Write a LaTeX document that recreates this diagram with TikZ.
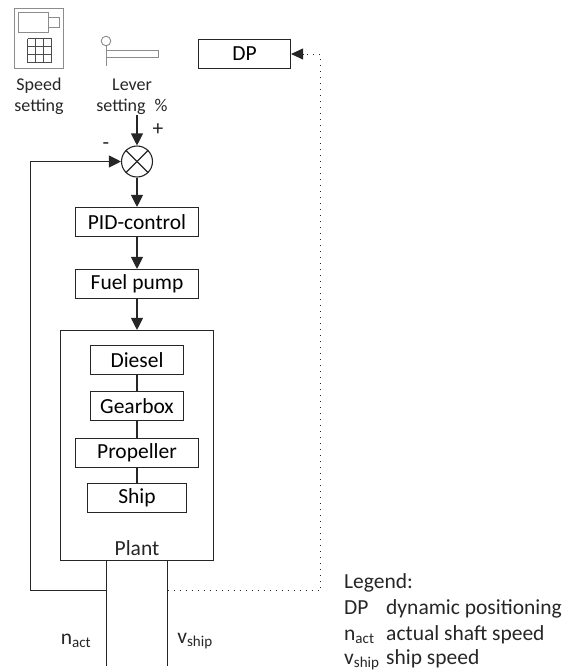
\documentclass[tikz,border=0pt]{standalone}
\usepackage{fontspec}
\setmainfont{Carlito}
\usepackage{tikz}
\usetikzlibrary{arrows.meta}
\usetikzlibrary{positioning}
\begin{document}
\begin{tikzpicture}[x=1pt,y=-1pt]
	\useasboundingbox (0,0) rectangle (569,672);
	\tikzset{every node/.style={font=\fontsize{21.5}{24}\selectfont},
	         block/.style={draw=black!85, line width=1.1pt, minimum height=29pt, inner sep=0pt},
	         word/.style={inner sep=0pt, align=center, text=black!85},
	         small/.style={font=\fontsize{18}{21}\selectfont},
	         icon/.style={draw=black!45, line width=0.9pt},
	         wire/.style={draw=black!85, line width=1.1pt},
	         flow/.style={draw=black!85, line width=1.1pt, -{Triangle[length=12pt,width=12pt]}},
	         dots/.style={draw=black!85, line width=0.9pt, dash pattern=on 1pt off 5pt}}

	% blocks
	\node[block, minimum width=92pt] (DP) at (244.5,54) {DP};
	\node[block, minimum width=123pt] (PID) at (137,222) {PID-control};
	\node[block, minimum width=123pt] (pump) at (137,284) {Fuel pump};
	\node[block, minimum width=153pt, minimum height=230pt] (plant) at (137,445.5) {};
	\node[block, minimum width=93pt] (diesel) at (137,360) {Diesel};
	\node[block, minimum width=93pt] (gearbox) at (137,406) {Gearbox};
	\node[block, minimum width=123pt] (prop) at (137,453) {Propeller};
	\node[block, minimum width=99pt] (ship) at (137,498) {Ship};
	\node[word] (plantname) at (137,548) {Plant};

	% summing point
	\node[draw=black!85, line width=1.1pt, circle, minimum size=31pt, inner sep=0pt] (sum) at (137,161.5) {};
	\draw[wire] (sum.north west) -- (sum.south east);
	\draw[wire] (sum.north east) -- (sum.south west);

	% speed setting panel
	\draw[icon] (14.5,8.5) rectangle (63.5,68.5);
	\draw[icon] (18.5,12.5) rectangle (48.5,32.5);
	\draw[icon] (48.5,17.5) rectangle (59.5,27.5);
	\foreach \i in {0,1,2,3}
	{\draw[draw=black!70, line width=0.7pt] (27.5+8.1*\i,38.5) -- (27.5+8.1*\i,62.5);
	 \draw[draw=black!70, line width=0.7pt] (27.5,38.5+8*\i) -- (51.8,38.5+8*\i);}
	% lever
	\draw[icon] (106,41) circle (4.8pt);
	\draw[icon] (106.5,46) -- (106.5,66);
	\draw[icon] (106.5,50.5) rectangle (158.5,57.5);

	% texts
	\node[word, small] (speedtxt) at (39,96.5) {Speed\\setting};
	\node[word, small] (levertxt) at (132,96.5) {Lever\\setting\hspace{5pt} \%};
	\node[word] (plus) at (158,130) {+};
	\node[word] (minus) at (106,146) {-};

	% connectors
	\coordinate (leverend) at (137,115);
	\coordinate (backcorner) at (30.5,161.5);
	\coordinate (nbranch) at (106.5,590.5);
	\coordinate (nstart) at (106.5,560.5);
	\coordinate (nend) at (106.5,666);
	\coordinate (vstart) at (167.5,560.5);
	\coordinate (vend) at (167.5,666);
	\coordinate (vbranch) at (167.5,590.5);
	\coordinate (dotcorner) at (320.5,590.5);
	\coordinate (dottop) at (320.5,54);
	\coordinate (dotend) at (303,54);

	\path[flow] (leverend) -- (sum);
	\path[flow] (sum) -- (PID);
	\path[flow] (PID) -- (pump);
	\path[flow] (pump) -- (plant);
	\path[wire] (diesel) -- (gearbox);
	\path[wire] (gearbox) -- (prop);
	\path[wire] (prop) -- (ship);
	\path[wire] (nstart) -- (nend);
	\path[wire] (vstart) -- (vend);
	\draw[flow] (nbranch) -- (backcorner |- nbranch) -- (backcorner) -- (sum);
	\draw[dots] (vbranch) -- (dotcorner) -- (dottop) -- (dotend);
	\path[draw=black!85, line width=0.9pt, -{Triangle[length=12pt,width=11pt]}] (dotend) -- (DP);

	% signal names
	\node[word] (nact) at (76,641) {n\textsubscript{act}};
	\node[word] (vship) at (195,641) {v\textsubscript{ship}};

	% legend
	\node[word, anchor=west] (legend) at (344,583) {Legend:};
	\node[word, anchor=west] (legdp) at (344,609) {\makebox[42pt][l]{DP}dynamic positioning};
	\node[word, anchor=west] (legn) at (344,635) {\makebox[42pt][l]{n\textsubscript{act}}actual shaft speed};
	\node[word, anchor=west] (legv) at (344,660) {\makebox[42pt][l]{v\textsubscript{ship}}ship speed};
\end{tikzpicture}
\end{document}
